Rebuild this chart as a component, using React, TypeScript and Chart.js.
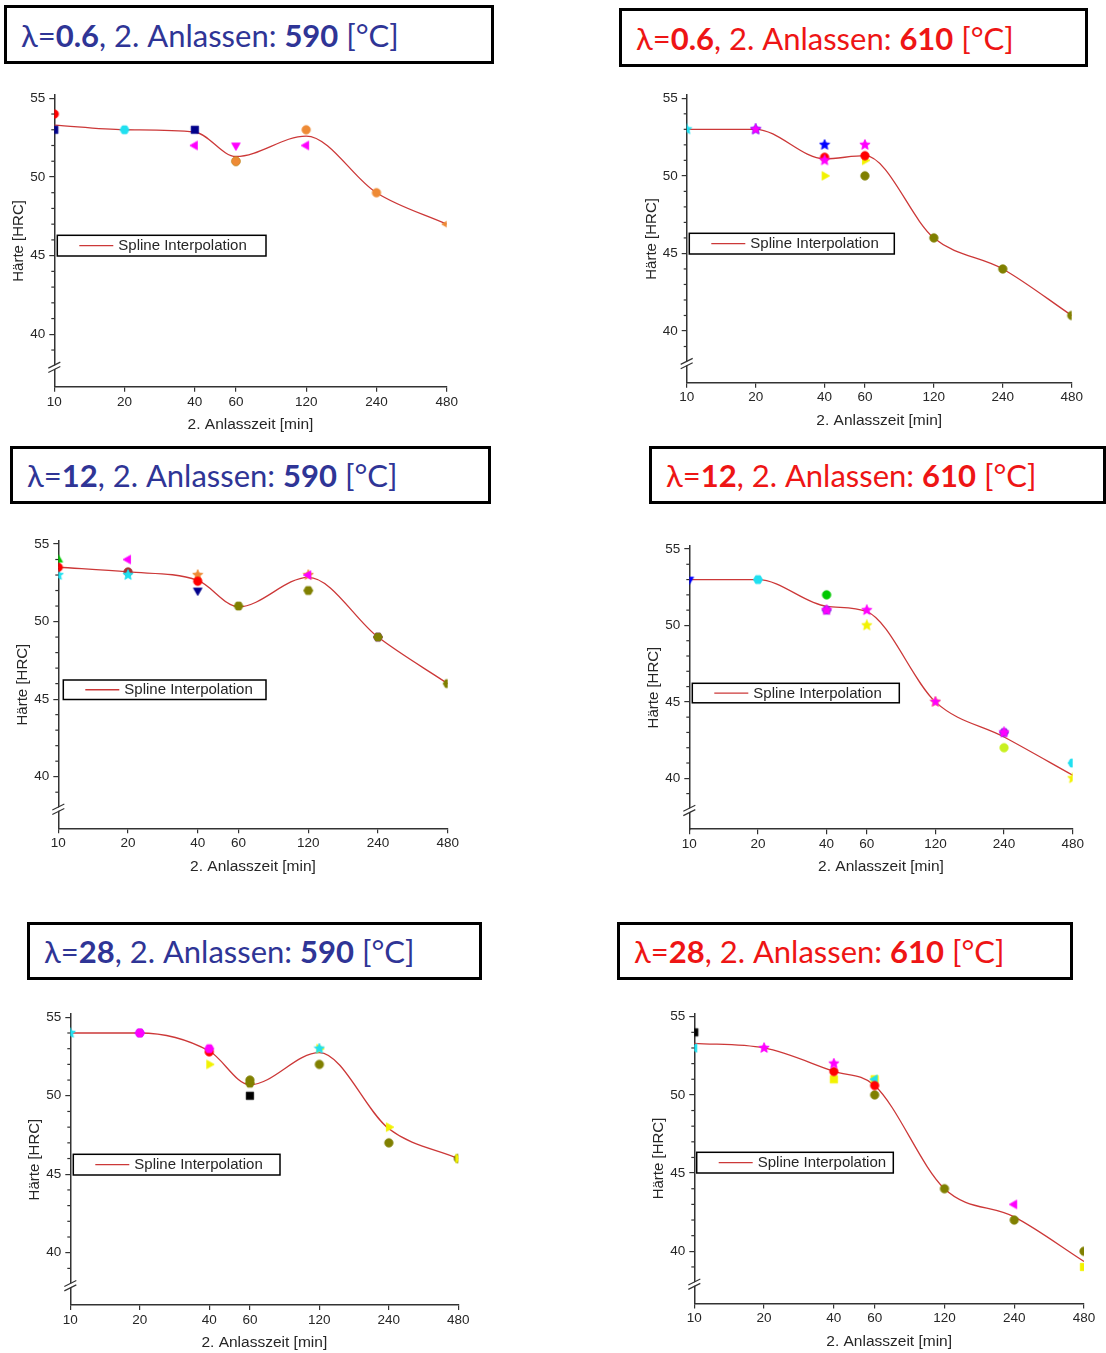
import React, { useEffect, useRef } from 'react';
import { Chart, registerables } from 'chart.js';

Chart.register(...registerables);

// ---------- shared axis values ----------
const X_VALUES = [10, 20, 40, 60, 120, 240, 480];
const Y_TICKS = [40, 45, 50, 55];
const Y_MIN = 36.67;
const Y_MAX = 55.2;
const BREAK_AT = 37.9;

const LAMBDAS = ['0.6', '12', '28'];
const TEMPS = ['590', '610'];
const SPLINE_LABEL = 'Spline Interpolation';
const X_TITLE = '2. Anlasszeit [min]';
const Y_TITLE = 'Härte [HRC]';

// ---------- λ=0.6, 590 °C ----------
const p1Spline = [53.3, 53.0, 52.85, 51.3, 52.6, 49.0, 47.0];
const p1Red = [54, null, null, null, null, null, null];
const p1Navy = [53, null, 53, null, null, null, null];
const p1Cyan = [null, 53, null, null, null, null, null];
const p1MagentaL = [null, null, 52, null, 52, null, null];
const p1MagentaD = [null, null, null, 52, null, null, null];
const p1Orange = [null, null, null, 51, 53, 49, null];
const p1Olive = [null, null, null, 51, null, null, null];
const p1OrangeL = [null, null, null, null, null, null, 47];

// ---------- λ=0.6, 610 °C ----------
const p2Spline = [53.0, 53.0, 51.1, 51.3, 46.0, 44.0, 41.0];
const p2Cyan = [53, null, null, null, null, null, null];
const p2Magenta = [null, 53, 51, 52, null, null, null];
const p2Blue = [null, 53, 52, null, null, null, null];
const p2Red = [null, null, 51.2, 51.3, null, null, null];
const p2Yellow = [null, null, 50, 51, null, null, null];
const p2Olive = [null, null, null, 50, 46, 44, 41];

// ---------- λ=12, 590 °C ----------
const p3Spline = [53.5, 53.2, 52.65, 50.95, 52.85, 49.0, 46.0];
const p3Green = [54, null, null, null, null, null, null];
const p3Red = [53.5, null, 52.6, null, null, null, null];
const p3Cyan = [53, 53, null, null, null, null, null];
const p3Wine = [null, 53.2, null, null, null, null, null];
const p3Magenta = [null, 54, null, null, 53, null, null];
const p3Orange = [null, null, 53, null, 53, null, null];
const p3Navy = [null, null, 52, null, null, null, null];
const p3Olive = [null, null, null, 51, 52, 49, 46];
const p3Purple = [null, null, null, null, null, 49, null];

// ---------- λ=12, 610 °C ----------
const p4Spline = [53.0, 53.0, 51.25, 50.9, 45.0, 42.7, 40.2];
const p4Blue = [53, null, null, null, null, null, null];
const p4Cyan = [null, 53, null, null, null, null, 41];
const p4Green = [null, null, 52, null, null, null, null];
const p4Magenta = [null, null, 51, 51, 45, 43, null];
const p4Purple = [null, null, 51, null, null, 43, null];
const p4Yellow = [null, null, null, 50, 45, null, 40];
const p4YellowGreen = [null, null, null, null, null, 42, null];

// ---------- λ=28, 590 °C ----------
const p5Spline = [54.0, 54.0, 52.85, 50.7, 52.75, 47.9, 46.0];
const p5Cyan = [54, null, null, null, 53, null, null];
const p5Magenta = [null, 54, 53, null, null, null, null];
const p5Purple = [null, 54, null, null, null, null, null];
const p5Red = [null, null, 52.8, null, null, null, null];
const p5Yellow = [null, null, 52, null, 53, 48, 46];
const p5Olive = [null, null, null, 51, 52, 47, 46];
const p5OliveH = [null, null, null, 50.8, null, null, null];
const p5Black = [null, null, null, 50, null, null, null];

// ---------- λ=28, 610 °C ----------
const p6Spline = [53.3, 53.0, 51.5, 50.6, 44.0, 42.2, 39.35];
const p6Black = [54, null, null, null, null, null, null];
const p6Cyan = [53, null, null, 51, null, null, null];
const p6Magenta = [null, 53, 52, null, null, null, null];
const p6MagentaL = [null, null, null, null, null, 43, null];
const p6Red = [null, null, 51.5, 50.6, null, null, null];
const p6Yellow = [null, null, 51, 51, null, null, 39];
const p6Olive = [null, null, null, 50, 44, 42, 40];

// ---------- styles ----------
const C = {
  black: '#000000',
  red: '#FF0000',
  blue: '#0000FF',
  navy: '#00008B',
  cyan: '#20E0F0',
  magenta: '#FF00FF',
  olive: '#808000',
  orange: '#EE8A35',
  yellow: '#F2F200',
  green: '#00C800',
  purple: '#8A2BE2',
  wine: '#A83232',
  yellowGreen: '#C8F020',
};
const BLUE_TEXT = '#2F3596';
const RED_TEXT = '#EE1515';
const SPLINE_COLOR = '#CC3838';
const AXIS_COLOR = '#333333';
const TEXT_COLOR = '#262626';
const FONT = '"Liberation Sans", Arial, sans-serif';

type Shape = 'square' | 'circle' | 'up' | 'down' | 'left' | 'right' | 'hexagon' | 'star';
type Series = { values: (number | null)[]; color: string; shape: Shape };

const S = (values: (number | null)[], color: string, shape: Shape): Series => ({ values, color, shape });

const PANELS = [
  {
    lambda: 0, temp: 0, spline: p1Spline,
    series: [S(p1Red, C.red, 'circle'), S(p1Navy, C.navy, 'square'), S(p1Cyan, C.cyan, 'hexagon'), S(p1MagentaL, C.magenta, 'left'), S(p1MagentaD, C.magenta, 'down'), S(p1Orange, C.orange, 'circle'), S(p1Olive, C.olive, 'circle'), S(p1OrangeL, C.orange, 'left')],
    titleBox: [4, 5, 490, 59], canvas: [0, 70, 480, 370], axisX: 54.3, rightX: 446.7, y55: 98.3, y40: 334.3,
    legend: [57.3, 235.3, 208.7, 20.7],
  },
  {
    lambda: 0, temp: 1, spline: p2Spline,
    series: [S(p2Cyan, C.cyan, 'star'), S(p2Magenta, C.magenta, 'star'), S(p2Red, C.red, 'circle'), S(p2Blue, C.blue, 'star'), S(p2Yellow, C.yellow, 'right'), S(p2Olive, C.olive, 'circle')],
    titleBox: [619, 8, 469, 59], canvas: [620, 70, 486, 370], axisX: 686.7, rightX: 1071.7, y55: 98.3, y40: 331,
    legend: [689.3, 233.3, 205, 20.7],
  },
  {
    lambda: 1, temp: 0, spline: p3Spline,
    series: [S(p3Green, C.green, 'up'), S(p3Red, C.red, 'circle'), S(p3Cyan, C.cyan, 'star'), S(p3Wine, C.wine, 'circle'), S(p3Magenta, C.magenta, 'left'), S(p3Orange, C.orange, 'star'), S(p3Navy, C.navy, 'down'), S(p3Olive, C.olive, 'hexagon'), S(p3Purple, C.purple, 'hexagon')],
    titleBox: [10, 446, 481, 58], canvas: [0, 508, 480, 377], axisX: 58.3, rightX: 447.7, y55: 544, y40: 776.7,
    legend: [63.3, 680, 202.7, 19.5],
  },
  {
    lambda: 1, temp: 1, spline: p4Spline,
    series: [S(p4Blue, C.blue, 'down'), S(p4Cyan, C.cyan, 'hexagon'), S(p4Green, C.green, 'circle'), S(p4Magenta, C.magenta, 'star'), S(p4Purple, C.purple, 'hexagon'), S(p4Yellow, C.yellow, 'star'), S(p4YellowGreen, C.yellowGreen, 'circle')],
    titleBox: [649, 446, 457, 58], canvas: [620, 508, 486, 377], axisX: 689.3, rightX: 1072.7, y55: 549, y40: 778.3,
    legend: [692.3, 683.3, 207, 19.5],
  },
  {
    lambda: 2, temp: 0, spline: p5Spline,
    series: [S(p5Cyan, C.cyan, 'star'), S(p5Magenta, C.magenta, 'hexagon'), S(p5Purple, C.purple, 'hexagon'), S(p5Red, C.red, 'circle'), S(p5Yellow, C.yellow, 'right'), S(p5Olive, C.olive, 'circle'), S(p5OliveH, C.olive, 'hexagon'), S(p5Black, C.black, 'square')],
    titleBox: [27, 922, 455, 58], canvas: [0, 985, 480, 368], axisX: 70.3, rightX: 458.3, y55: 1017.3, y40: 1252.7,
    legend: [73.3, 1154.3, 206.7, 20.7],
  },
  {
    lambda: 2, temp: 1, spline: p6Spline,
    series: [S(p6Black, C.black, 'square'), S(p6Magenta, C.magenta, 'star'), S(p6MagentaL, C.magenta, 'left'), S(p6Red, C.red, 'circle'), S(p6Cyan, C.cyan, 'left'), S(p6Yellow, C.yellow, 'square'), S(p6Olive, C.olive, 'circle')],
    titleBox: [617, 922, 456, 58], canvas: [620, 985, 486, 368], axisX: 694.3, rightX: 1084, y55: 1016.7, y40: 1251.3,
    legend: [696.7, 1152.3, 196.6, 20.7],
  },
];

function makeMarker(shape: Shape, color: string): HTMLCanvasElement {
  const size = 12;
  const c = document.createElement('canvas');
  c.width = size;
  c.height = size;
  const g = c.getContext('2d') as CanvasRenderingContext2D;
  const cx = size / 2;
  const cy = size / 2;
  g.fillStyle = color;
  g.strokeStyle = color;
  g.lineWidth = 0.8;
  const poly = (r: number, startDeg: number, n: number, inner?: number) => {
    const count = inner ? n * 2 : n;
    for (let i = 0; i < count; i++) {
      const a = ((startDeg + (360 / count) * i) * Math.PI) / 180;
      const rr = inner && i % 2 === 1 ? inner : r;
      const px = cx + rr * Math.cos(a);
      const py = cy + rr * Math.sin(a);
      if (i === 0) g.moveTo(px, py);
      else g.lineTo(px, py);
    }
  };
  g.beginPath();
  switch (shape) {
    case 'square':
      g.rect(cx - 3.7, cy - 3.7, 7.4, 7.4);
      break;
    case 'circle':
      g.arc(cx, cy, 4.2, 0, Math.PI * 2);
      break;
    case 'up':
      poly(5, -90, 3);
      break;
    case 'down':
      poly(5, 90, 3);
      break;
    case 'left':
      poly(5, 180, 3);
      break;
    case 'right':
      poly(5, 0, 3);
      break;
    case 'hexagon':
      poly(4.6, 0, 6);
      break;
    case 'star':
      poly(5.4, -90, 5, 2.5);
      break;
  }
  g.closePath();
  g.fill();
  g.stroke();
  return c;
}

function toPoints(values: (number | null)[]) {
  const pts: { x: number; y: number }[] = [];
  values.forEach((v, i) => {
    if (v !== null) pts.push({ x: X_VALUES[i], y: v });
  });
  return pts;
}

function PanelChart({ panel }: { panel: (typeof PANELS)[number] }) {
  const ref = useRef<HTMLCanvasElement | null>(null);
  const [cl, ct, cw, ch] = panel.canvas;

  useEffect(() => {
    const unit = (panel.y40 - panel.y55) / 15;
    const top = panel.y55 - (Y_MAX - 55) * unit;
    const bottom = panel.y40 + (40 - Y_MIN) * unit;
    const yAxisWidth = panel.axisX - cl;
    const xAxisHeight = ct + ch - bottom;
    const titleLH = 15 * 1.2;
    const yTitlePad = panel.axisX - 35.3 - cl - titleLH / 2;
    const xTitlePad = ct + ch - (bottom + 38.3) - titleLH / 2;

    const markerSets = panel.series.map((s) => ({
      type: 'line' as const,
      label: s.color,
      data: toPoints(s.values),
      showLine: false,
      pointStyle: makeMarker(s.shape, s.color),
      pointRadius: 4,
      borderColor: s.color,
      backgroundColor: s.color,
    }));

    const splineSet = {
      type: 'line' as const,
      label: SPLINE_LABEL,
      data: toPoints(panel.spline),
      showLine: true,
      cubicInterpolationMode: 'monotone',
      borderColor: SPLINE_COLOR,
      borderWidth: 1.3,
      pointRadius: 0,
      fill: false,
    };

    const [lgL, lgT, lgW, lgH] = panel.legend;

    const extras = {
      id: 'extras',
      afterDraw(chart: any) {
        const ctx = chart.ctx as CanvasRenderingContext2D;
        const ys = chart.scales.y;
        const ax = chart.chartArea.left;
        ctx.save();
        // minor ticks
        ctx.strokeStyle = AXIS_COLOR;
        ctx.lineWidth = 1.2;
        for (let v = 39; v < Y_MAX; v++) {
          if (v % 5 === 0) continue;
          const py = ys.getPixelForValue(v);
          ctx.beginPath();
          ctx.moveTo(ax - 3, py);
          ctx.lineTo(ax, py);
          ctx.stroke();
        }
        // axis break
        const by = ys.getPixelForValue(BREAK_AT);
        ctx.strokeStyle = '#ffffff';
        ctx.lineWidth = 3;
        ctx.beginPath();
        ctx.moveTo(ax - 3, by + 1.5);
        ctx.lineTo(ax + 3, by - 1.5);
        ctx.stroke();
        ctx.strokeStyle = AXIS_COLOR;
        ctx.lineWidth = 1.2;
        for (const d of [-2.2, 2.2]) {
          ctx.beginPath();
          ctx.moveTo(ax - 6, by + d + 3);
          ctx.lineTo(ax + 6, by + d - 3);
          ctx.stroke();
        }
        // legend box
        const lx = lgL - cl;
        const ly = lgT - ct;
        ctx.fillStyle = '#ffffff';
        ctx.fillRect(lx, ly, lgW, lgH);
        ctx.strokeStyle = '#000000';
        ctx.lineWidth = 1.5;
        ctx.strokeRect(lx, ly, lgW, lgH);
        const my = ly + lgH / 2;
        ctx.strokeStyle = SPLINE_COLOR;
        ctx.lineWidth = 1.3;
        ctx.beginPath();
        ctx.moveTo(lx + 22, my);
        ctx.lineTo(lx + 56, my);
        ctx.stroke();
        ctx.fillStyle = TEXT_COLOR;
        ctx.font = `15px ${FONT}`;
        ctx.textBaseline = 'middle';
        ctx.textAlign = 'left';
        ctx.fillText(SPLINE_LABEL, lx + 61, my + 0.5);
        ctx.restore();
      },
    };

    const chart = new Chart(ref.current as HTMLCanvasElement, {
      type: 'line',
      data: { datasets: [...markerSets, splineSet] as any },
      options: {
        responsive: false,
        maintainAspectRatio: false,
        animation: false,
        events: [],
        layout: { padding: { left: 0, top: top - ct, right: cl + cw - panel.rightX, bottom: 0 } },
        plugins: { legend: { display: false }, tooltip: { enabled: false }, title: { display: false } },
        scales: {
          x: {
            type: 'logarithmic',
            min: 10,
            max: 480,
            afterBuildTicks: (s: any) => {
              s.ticks = X_VALUES.map((v) => ({ value: v }));
            },
            afterFit: (s: any) => {
              s.height = xAxisHeight;
            },
            ticks: {
              autoSkip: false,
              maxRotation: 0,
              padding: 2,
              color: TEXT_COLOR,
              font: { family: FONT, size: 13.5 },
              callback: (v: any) => String(v),
            },
            grid: { display: true, drawOnChartArea: false, drawTicks: true, tickLength: 5, color: AXIS_COLOR, lineWidth: 1.2 },
            border: { display: true, color: AXIS_COLOR, width: 1.5 },
            title: {
              display: true,
              text: X_TITLE,
              color: TEXT_COLOR,
              font: { family: FONT, size: 15.5 },
              padding: { top: 0, bottom: xTitlePad },
            },
          },
          y: {
            type: 'linear',
            min: Y_MIN,
            max: Y_MAX,
            afterBuildTicks: (s: any) => {
              s.ticks = Y_TICKS.map((v) => ({ value: v }));
            },
            afterFit: (s: any) => {
              s.width = yAxisWidth;
            },
            ticks: {
              padding: 4,
              color: TEXT_COLOR,
              font: { family: FONT, size: 13.5 },
              callback: (v: any) => String(v),
            },
            grid: { display: true, drawOnChartArea: false, drawTicks: true, tickLength: 5, color: AXIS_COLOR, lineWidth: 1.2 },
            border: { display: true, color: AXIS_COLOR, width: 1.5 },
            title: {
              display: true,
              text: Y_TITLE,
              color: TEXT_COLOR,
              font: { family: FONT, size: 15 },
              padding: { top: yTitlePad, bottom: 0 },
            },
          },
        },
      } as any,
      plugins: [extras],
    });
    return () => chart.destroy();
  }, []);

  return (
    <canvas
      ref={ref}
      width={cw}
      height={ch}
      style={{ position: 'absolute', left: cl, top: ct, width: cw, height: ch }}
    />
  );
}

function TitleBox({ panel }: { panel: (typeof PANELS)[number] }) {
  const [l, t, w, h] = panel.titleBox;
  const color = panel.temp === 0 ? BLUE_TEXT : RED_TEXT;
  return (
    <div
      style={{
        position: 'absolute',
        left: l,
        top: t,
        width: w,
        height: h,
        boxSizing: 'border-box',
        border: '3px solid #000',
        background: '#fff',
        display: 'flex',
        alignItems: 'center',
        paddingLeft: 14,
        fontFamily: 'Lato, "Open Sans", sans-serif',
        fontSize: 31,
        color,
        whiteSpace: 'nowrap',
        overflow: 'hidden',
      }}
    >
      <span>
        λ=<b>{LAMBDAS[panel.lambda]}</b>, 2. Anlassen: <b>{TEMPS[panel.temp]}</b> [°C]
      </span>
    </div>
  );
}

export default function App() {
  return (
    <div style={{ position: 'absolute', left: 0, top: 0, width: 1106, height: 1353, background: '#fff', overflow: 'hidden' }}>
      {PANELS.map((p, i) => (
        <PanelChart key={'c' + i} panel={p} />
      ))}
      {PANELS.map((p, i) => (
        <TitleBox key={'t' + i} panel={p} />
      ))}
    </div>
  );
}
